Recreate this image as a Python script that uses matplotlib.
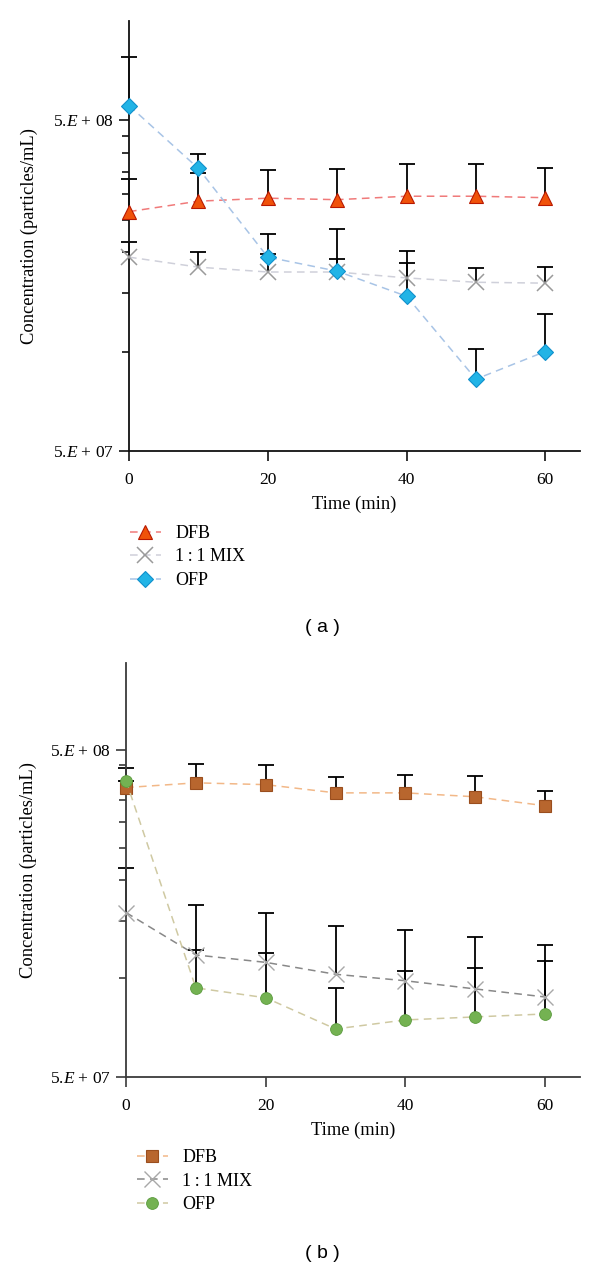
import numpy as np
import matplotlib
matplotlib.use("Agg")
import matplotlib.pyplot as plt
from matplotlib.ticker import FixedLocator, NullFormatter, FixedFormatter

plt.rcParams['font.family'] = ['Liberation Serif', 'DejaVu Serif']
plt.rcParams['mathtext.fontset'] = 'custom'
plt.rcParams['mathtext.rm'] = 'Liberation Serif'
plt.rcParams['mathtext.it'] = 'Liberation Serif:italic'

# ---------------- data ----------------
time = [0, 10, 20, 30, 40, 50, 60]
series_names = ["DFB", "1\u2009:\u20091 MIX", "OFP"]

# panel (a)
a_dfb = [2.65e8, 2.85e8, 2.91e8, 2.88e8, 2.95e8, 2.95e8, 2.92e8]
a_dfb_err = [0.67e8, 0.61e8, 0.62e8, 0.68e8, 0.73e8, 0.73e8, 0.68e8]
a_mix = [1.93e8, 1.80e8, 1.74e8, 1.74e8, 1.67e8, 1.62e8, 1.61e8]
a_mix_err = [0.22e8, 0.20e8, 0.23e8, 0.17e8, 0.18e8, 0.17e8, 0.19e8]
a_ofp = [5.55e8, 3.58e8, 1.93e8, 1.75e8, 1.47e8, 0.825e8, 1.0e8]
a_ofp_err = [2.25e8, 0.39e8, 0.33e8, 0.59e8, 0.55e8, 0.19e8, 0.30e8]

# panel (b)
b_dfb = [3.83e8, 3.96e8, 3.91e8, 3.69e8, 3.69e8, 3.59e8, 3.37e8]
b_dfb_err = [0.55e8, 0.57e8, 0.59e8, 0.44e8, 0.50e8, 0.57e8, 0.38e8]
b_mix = [1.59e8, 1.18e8, 1.12e8, 1.03e8, 0.984e8, 0.929e8, 0.878e8]
b_mix_err = [0.59e8, 0.50e8, 0.47e8, 0.42e8, 0.42e8, 0.41e8, 0.39e8]
b_ofp = [4.02e8, 0.936e8, 0.873e8, 0.701e8, 0.747e8, 0.763e8, 0.779e8]
b_ofp_err = [0.0, 0.29e8, 0.32e8, 0.235e8, 0.31e8, 0.31e8, 0.35e8]

major_ticks = [5e7, 5e8]
major_labels = [r'5.$E$ + 07', r'5.$E$ + 08']
minor_ticks = [1e8, 1.5e8, 2e8, 2.5e8, 3e8, 3.5e8, 4e8, 4.5e8]
x_ticks = [0, 20, 40, 60]

W, H = 600, 1267
fig = plt.figure(figsize=(W / 100, H / 100), dpi=100)


def box(l, r, t, b):
    return [l / W, 1 - b / H, (r - l) / W, (b - t) / H]


ax1 = fig.add_axes(box(129, 580, 21, 451))
ax2 = fig.add_axes(box(126, 580, 663, 1077))


def draw(ax, specs, ymax, leg_xy, ylab_x, spine_col):
    handles = []
    for (vals, errs, lc, mk, mfc, mec, ms, mew, label) in specs:
        x = np.array(time)
        v = np.array(vals)
        e = np.array(errs)
        cont = ax.errorbar(x, v, yerr=[np.zeros_like(e), e], fmt='none',
                           ecolor='black', elinewidth=1.3, capsize=5.8,
                           capthick=1.3, zorder=2, clip_on=False)
        caps = cont[1]
        if len(caps) >= 2:
            caps[0].set_visible(False)
        h, = ax.plot(x, v, linestyle=(0, (5, 3.5)), color=lc, linewidth=1.1,
                     marker=mk, markersize=ms, markerfacecolor=mfc,
                     markeredgecolor=mec, markeredgewidth=mew, zorder=4,
                     clip_on=False, label=label)
        handles.append(h)
    ax.set_yscale('log')
    ax.set_ylim(5e7, ymax)
    ax.set_xlim(0, 65)
    ax.yaxis.set_major_locator(FixedLocator(major_ticks))
    ax.yaxis.set_major_formatter(FixedFormatter(major_labels))
    ax.yaxis.set_minor_locator(FixedLocator(minor_ticks))
    ax.yaxis.set_minor_formatter(NullFormatter())
    ax.set_xticks(x_ticks)
    ax.spines['top'].set_visible(False)
    ax.spines['right'].set_visible(False)
    for s in ['left', 'bottom']:
        ax.spines[s].set_linewidth(1.3)
        ax.spines[s].set_color(spine_col)
    ax.tick_params(axis='both', which='both', color=spine_col)
    ax.tick_params(axis='y', which='major', direction='out', length=7,
                   width=1.2, labelsize=12.5, pad=4)
    ax.tick_params(axis='y', which='minor', direction='out', length=5,
                   width=1.2)
    ax.tick_params(axis='x', which='major', direction='out', length=7,
                   width=1.2, labelsize=12.5, pad=8)
    ax.set_xlabel('Time (min)', fontsize=13.3, labelpad=6)
    ax.set_ylabel('Concentration (particles/mL)', fontsize=13.3)
    ax.yaxis.set_label_coords(ylab_x, 0.5)
    fig.legend(handles=handles, loc='upper left',
               bbox_to_anchor=(leg_xy[0] / W, 1 - leg_xy[1] / H),
               frameon=False, fontsize=13, handlelength=1.7,
               handletextpad=0.8, labelspacing=0.36, borderpad=0,
               borderaxespad=0)


specs_a = [
    (a_dfb, a_dfb_err, '#f07a7a', '^', '#f0520a', '#b81800', 10, 0.8, series_names[0]),
    (a_mix, a_mix_err, '#cfd0da', 'x', '#9a9a9a', '#9a9a9a', 11, 1.1, series_names[1]),
    (a_ofp, a_ofp_err, '#a8c4e6', 'D', '#22b4e6', '#1090cc', 8.5, 0.8, series_names[2]),
]
specs_b = [
    (b_dfb, b_dfb_err, '#f2b888', 's', '#b8662e', '#9a4e1e', 8.5, 0.8, series_names[0]),
    (b_mix, b_mix_err, '#888888', 'x', '#a8a8a8', '#a8a8a8', 11, 1.0, series_names[1]),
    (b_ofp, b_ofp_err, '#cfc9a2', 'o', '#74b252', '#5a9a3c', 8.5, 0.6, series_names[2]),
]

draw(ax1, specs_a, 1e9, (130, 525), (38.5 - 129) / 451, '#111111')
draw(ax2, specs_b, 9.2e8, (137, 1149), (37.5 - 126) / 454, '#3a3a3a')

fig.text(322 / W, 1 - 628 / H, '( a )', ha='center', va='center',
         fontsize=14, family=['Liberation Sans', 'DejaVu Sans'])
fig.text(322 / W, 1 - 1253 / H, '( b )', ha='center', va='center',
         fontsize=14, family=['Liberation Sans', 'DejaVu Sans'])

fig.savefig('out.png', dpi=100)
